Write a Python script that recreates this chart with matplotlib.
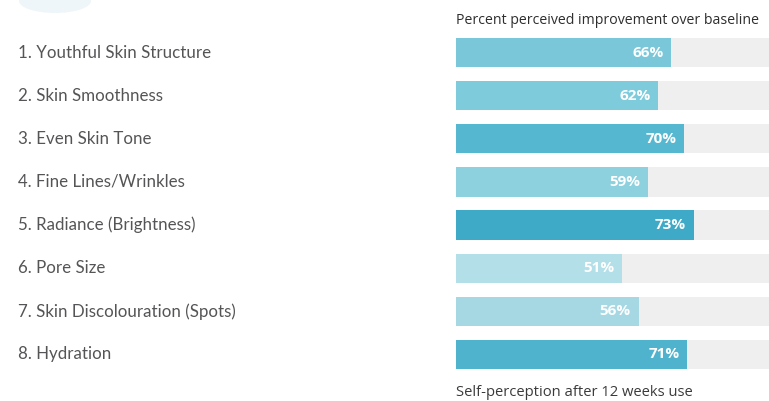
import matplotlib
matplotlib.use("Agg")
import matplotlib.pyplot as plt
from matplotlib.patches import Ellipse
from matplotlib.transforms import blended_transform_factory

categories = ["1. Youthful Skin Structure", "2. Skin Smoothness", "3. Even Skin Tone",
              "4. Fine Lines/Wrinkles", "5. Radiance (Brightness)", "6. Pore Size",
              "7. Skin Discolouration (Spots)", "8. Hydration"]
values = [66, 62, 70, 59, 73, 51, 56, 71]
value_labels = ["66%", "62%", "70%", "59%", "73%", "51%", "56%", "71%"]
bar_colors = ["#79c7d9", "#7ecbdc", "#56b8d0", "#8dd0de", "#3eaac8", "#b3dfe9", "#a6d8e4", "#4fb3cd"]
full_scale = 100
title = "Percent perceived improvement over baseline"
footer = "Self-perception after 12 weeks use"

W, H = 769, 401
fig = plt.figure(figsize=(W / 100, H / 100), dpi=100)
fig.patch.set_facecolor("white")

# decorative ellipse top-left
fig.patches.append(Ellipse((55 / W, 1 - 1 / H), 72 / W, 24 / H, transform=fig.transFigure,
                           facecolor="#eff6fa", edgecolor="none", zorder=0))

ax_top, ax_bot = 30.95, 376.05
ax = fig.add_axes([456 / W, 1 - ax_bot / H, 313 / W, (ax_bot - ax_top) / H])
ax.set_xlim(0, 313 / 3.26)
ax.set_ylim(len(values) - 0.5, -0.5)
ax.axis("off")

ypos = list(range(len(values)))
h = 0.68
ax.barh(ypos, [full_scale] * len(values), height=h, color="#efefef", zorder=1)
ax.barh(ypos, values, height=h, color=bar_colors, zorder=2)

for y, v, lab in zip(ypos, values, value_labels):
    ax.text(v - 2.4, y, lab, ha="right", va="center", color="white",
            fontsize=11, fontweight="bold", family="Open Sans", zorder=3)

tr = blended_transform_factory(fig.transFigure, ax.transData)
for y, c in zip(ypos, categories):
    ax.text(18 / W, y, c, transform=tr, ha="left", va="center", color="#555557",
            fontsize=12.2, family="Lato", clip_on=False)

fig.text(456 / W, 1 - 20 / H, title, ha="left", va="center", color="#2e2e2e",
         fontsize=10.2, family="Open Sans", fontweight="medium")
fig.text(456 / W, 1 - 392 / H, footer, ha="left", va="center", color="#3a3a3a",
         fontsize=10.6, family="Open Sans")

fig.savefig("out.png", dpi=100)
